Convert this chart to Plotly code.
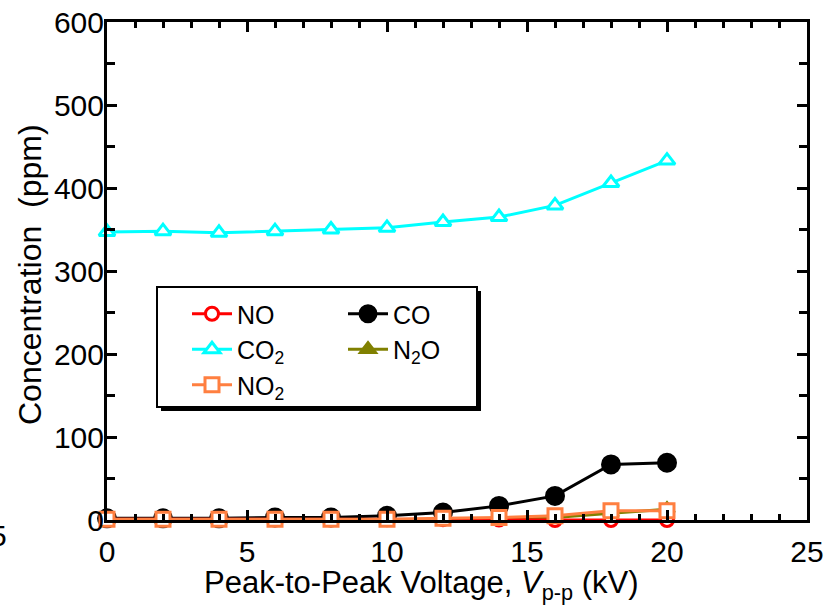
import plotly.graph_objects as go

# ---- data ----
voltage = [0, 2, 4, 6, 8, 10, 12, 14, 16, 18, 20]
no_ppm = [1, 1, 1, 1, 1, 1, 1, 0.5, 0, 0, 0]
co2_ppm = [347, 348, 346, 348, 350, 352, 359, 365, 379, 406, 433]
no2_ppm = [1, 1, 1, 1, 1, 1, 2, 3, 5, 11, 11]
co_ppm = [2, 2, 2, 3, 3, 5, 9, 17, 29, 67, 69]
n2o_ppm = [0, 0, 0, 0, 0, 0, 1, 2, 3, 8, 13]

x_ticks = [0, 5, 10, 15, 20, 25]
y_ticks = [0, 100, 200, 300, 400, 500, 600]

FONT = "Liberation Sans, Arial, sans-serif"

fig = go.Figure()

def add(name, y, color, symbol, fill, size, legend, rank):
    fig.add_trace(go.Scatter(
        x=voltage, y=y, name=name, mode="lines+markers",
        line=dict(color=color, width=3),
        marker=dict(symbol=symbol, size=size, color=fill,
                    line=dict(color=color, width=3)),
        legend=legend, legendrank=rank, cliponaxis=False,
    ))

# drawing order (bottom -> top)
add("CO<sub>2</sub>", co2_ppm, "#00FFFF", "triangle-up", "white", 14, "legend", 2)
add("CO", co_ppm, "#000000", "circle", "#000000", 17, "legend2", 1)
add("N<sub>2</sub>O", n2o_ppm, "#808000", "triangle-up", "#808000", 13, "legend2", 2)
add("NO", no_ppm, "#FF0000", "circle", "white", 13, "legend", 1)
add("NO<sub>2</sub>", no2_ppm, "#FF7F40", "square", "white", 14, "legend", 3)

def px_x(p):
    return (p - 107) / 700.0

def px_y(p):
    return (520 - p) / 498.0

# legend frame with drop shadow
fig.add_shape(type="rect", xref="paper", yref="paper",
              x0=px_x(161), x1=px_x(481), y0=px_y(411), y1=px_y(291),
              fillcolor="black", line=dict(width=0), layer="above")
fig.add_shape(type="rect", xref="paper", yref="paper",
              x0=px_x(157), x1=px_x(477), y0=px_y(407), y1=px_y(287),
              fillcolor="white", line=dict(color="black", width=2), layer="above")

# stray partial tick label at the far left edge of the reference image
fig.add_annotation(text="5", xref="paper", yref="paper", x=px_x(9), y=px_y(535),
                   xanchor="right", yanchor="middle", showarrow=False,
                   font=dict(family=FONT, size=30, color="black"))

# axis titles
fig.add_annotation(text="Peak-to-Peak Voltage, <i>V</i><sub>p-p</sub> (kV)",
                   xref="paper", yref="paper", x=px_x(421), y=px_y(585),
                   xanchor="center", yanchor="middle", showarrow=False,
                   font=dict(family=FONT, size=31, color="black"))
fig.add_annotation(text="Concentration\u00a0 (ppm)",
                   xref="paper", yref="paper", x=px_x(30), y=px_y(275),
                   xanchor="center", yanchor="middle", showarrow=False,
                   textangle=-90,
                   font=dict(family=FONT, size=32, color="black"))

axis_common = dict(
    showline=True, linecolor="black", linewidth=3, mirror="allticks",
    ticks="inside", ticklen=10, tickwidth=3, tickcolor="black",
    showgrid=False, zeroline=False, automargin=False,
    tickfont=dict(family=FONT, size=30, color="black"),
)

fig.update_layout(
    width=834, height=607,
    margin=dict(l=107, r=27, t=22, b=87),
    paper_bgcolor="white", plot_bgcolor="white",
    font=dict(family=FONT, color="black"),
    xaxis=dict(
        range=[0, 25], tickmode="array", tickvals=x_ticks,
        ticktext=[str(v) for v in x_ticks], ticklabelstandoff=3,
        minor=dict(dtick=1, ticks="inside", ticklen=6, tickwidth=2.5,
                   tickcolor="black", showgrid=False),
        **axis_common,
    ),
    yaxis=dict(
        range=[0, 600], tickmode="array", tickvals=y_ticks,
        ticktext=[str(v) for v in y_ticks], ticklabelstandoff=-6,
        minor=dict(dtick=50, ticks="inside", ticklen=8, tickwidth=2.5,
                   tickcolor="black", showgrid=False),
        **axis_common,
    ),
    legend=dict(x=px_x(187), y=px_y(291), xanchor="left", yanchor="top",
                bgcolor="rgba(0,0,0,0)", borderwidth=0,
                font=dict(family=FONT, size=25, color="black"),
                tracegroupgap=0, itemwidth=40),
    legend2=dict(x=px_x(343), y=px_y(291), xanchor="left", yanchor="top",
                 bgcolor="rgba(0,0,0,0)", borderwidth=0,
                 font=dict(family=FONT, size=25, color="black"),
                 tracegroupgap=0, itemwidth=40),
    showlegend=True,
)

fig.write_html("out.html", config={"displayModeBar": False},
               post_script="document.body.style.margin='0';")
